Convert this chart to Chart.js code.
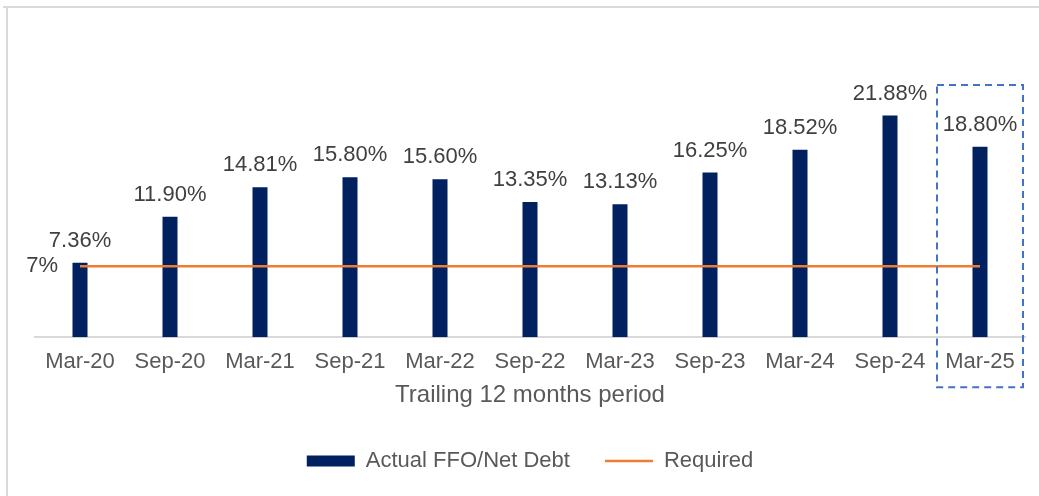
<!DOCTYPE html>
<html>
<head>
<meta charset="utf-8">
<script src="https://cdn.jsdelivr.net/npm/chart.js@4/dist/chart.umd.min.js"></script>
<style>
  body { margin: 0; background: #fff; }
  canvas { display: block; }
</style>
</head>
<body>
<canvas id="grafico" width="1039" height="496"></canvas>
<script>
// datos del grafico
const periodos = ["Mar-20", "Sep-20", "Mar-21", "Sep-21", "Mar-22", "Sep-22", "Mar-23", "Sep-23", "Mar-24", "Sep-24", "Mar-25"];
const ffoDeuda = [7.36, 11.90, 14.81, 15.80, 15.60, 13.35, 13.13, 16.25, 18.52, 21.88, 18.80];
const requerido = [7, 7, 7, 7, 7, 7, 7, 7, 7, 7, 7];
const etiquetaRequerido = "7%";
const periodoDestacado = "Mar-25";

const fuente = "'Liberation Sans', Arial, sans-serif";

// marco gris, etiquetas y recuadro punteado
const extras = {
  id: "extras",
  beforeDraw(chart) {
    let ctx = chart.ctx;
    ctx.save();
    ctx.fillStyle = "#fff";
    ctx.fillRect(0, 0, chart.width, chart.height);
    ctx.fillStyle = "#d9d9d9";
    ctx.fillRect(6, 6, 2, chart.height);
    ctx.fillRect(3, 6, chart.width, 2);
    ctx.restore();
  },
  afterDatasetsDraw(chart) {
    let ctx = chart.ctx;
    let x = chart.scales.x;
    let y = chart.scales.y;
    ctx.save();
    ctx.font = "22px " + fuente;
    ctx.fillStyle = "#404040";
    ctx.textAlign = "center";
    ctx.textBaseline = "alphabetic";
    chart.getDatasetMeta(0).data.forEach((barra, i) => {
      ctx.fillText(ffoDeuda[i].toFixed(2) + "%", barra.x, barra.y - 16);
    });
    ctx.textAlign = "right";
    ctx.textBaseline = "middle";
    ctx.fillText(etiquetaRequerido, x.getPixelForValue(0) - 22, y.getPixelForValue(requerido[0]));

    let centro = x.getPixelForValue(periodos.indexOf(periodoDestacado));
    let arriba = chart.chartArea.top + 1;
    let abajo = chart.chartArea.bottom + 50;
    ctx.strokeStyle = "#4472c4";
    ctx.lineWidth = 2;
    ctx.setLineDash([7, 5]);
    ctx.strokeRect(centro - 43, arriba, 86, abajo - arriba);
    ctx.restore();
  }
};

new Chart(document.getElementById("grafico"), {
  type: "bar",
  data: {
    labels: periodos,
    datasets: [
      {
        label: "Actual FFO/Net Debt",
        data: ffoDeuda,
        backgroundColor: "#002060",
        borderWidth: 0,
        categoryPercentage: 1,
        barPercentage: 15 / 90,
        order: 2
      },
      {
        type: "line",
        label: "Required",
        data: requerido,
        borderColor: "#ed7d31",
        backgroundColor: "#ed7d31",
        borderWidth: 2.5,
        pointRadius: 0,
        fill: false,
        order: 1
      }
    ]
  },
  options: {
    responsive: false,
    animation: false,
    layout: { padding: { left: 35, right: 14, top: 84, bottom: 14 } },
    scales: {
      x: {
        grid: { display: false, drawTicks: false },
        border: { display: true, color: "#d9d9d9", width: 2 },
        ticks: { color: "#595959", font: { family: fuente, size: 22 }, padding: 12, maxRotation: 0 },
        title: {
          display: true,
          text: "Trailing 12 months period",
          color: "#595959",
          font: { family: fuente, size: 24 },
          padding: { top: -7, bottom: 5.6 }
        }
      },
      y: {
        display: false,
        min: 0,
        max: 25
      }
    },
    plugins: {
      tooltip: { enabled: false },
      legend: {
        position: "bottom",
        labels: {
          color: "#595959",
          font: { family: fuente, size: 22 },
          usePointStyle: true,
          pointStyleWidth: 48,
          boxHeight: 11,
          padding: 35,
          generateLabels(chart) {
            let items = Chart.defaults.plugins.legend.labels.generateLabels(chart);
            items.forEach(it => { it.pointStyle = it.datasetIndex === 0 ? "rect" : "line"; });
            return items.sort((a, b) => a.datasetIndex - b.datasetIndex);
          }
        }
      }
    }
  },
  plugins: [extras]
});
</script>
</body>
</html>
